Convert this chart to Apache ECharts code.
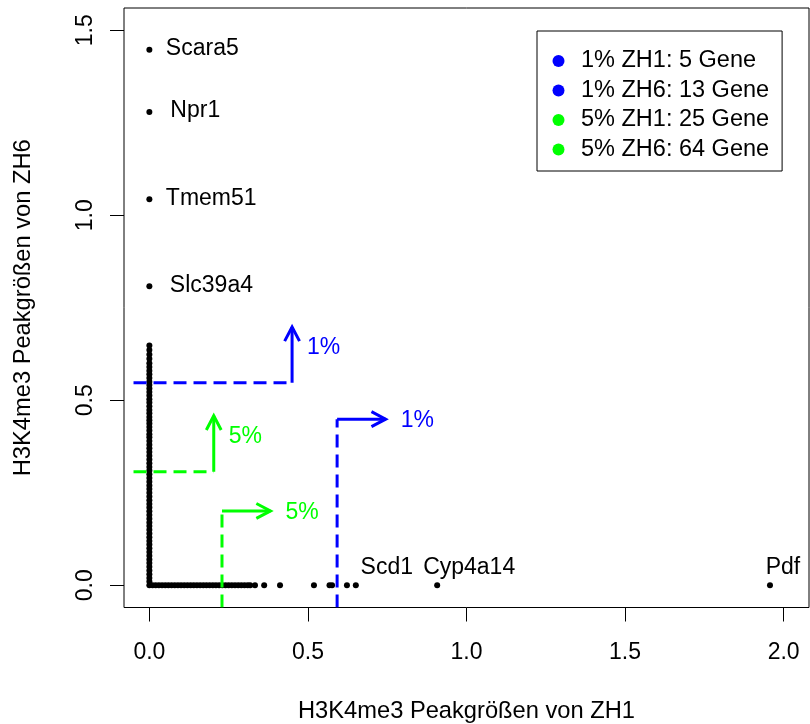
<!DOCTYPE html>
<html>
<head>
<meta charset="utf-8">
<script src="https://cdn.jsdelivr.net/npm/echarts@6/dist/echarts.min.js"></script>
<style>
  html, body { margin: 0; padding: 0; background: #fff; }
  #chart { width: 810px; height: 724px; }
</style>
</head>
<body>
<div id="chart"></div>
<script>
// Peak sizes at ZH1 = 0: the ZH6 values stacked in the left column
const columnZH6 = [
  0.00, 0.01, 0.02, 0.03, 0.04, 0.05, 0.06, 0.07, 0.08, 0.09,
  0.10, 0.11, 0.12, 0.13, 0.14, 0.15, 0.16, 0.17, 0.18, 0.19,
  0.20, 0.21, 0.22, 0.23, 0.24, 0.25, 0.26, 0.27, 0.28, 0.29,
  0.30, 0.31, 0.32, 0.33, 0.34, 0.35, 0.36, 0.37, 0.38, 0.39,
  0.40, 0.408, 0.418, 0.428, 0.437, 0.446, 0.455, 0.465, 0.474,
  0.484, 0.494, 0.503, 0.513, 0.522, 0.532, 0.541, 0.550, 0.560,
  0.570, 0.580, 0.590, 0.600, 0.612, 0.624, 0.636, 0.648
];
// Peak sizes at ZH6 = 0: the ZH1 values along the bottom row
const rowZH1 = [
  0.01, 0.02, 0.03, 0.04, 0.05, 0.06, 0.07, 0.08, 0.09, 0.10,
  0.11, 0.12, 0.13, 0.14, 0.15, 0.16, 0.17, 0.18, 0.19, 0.20,
  0.21, 0.22, 0.23, 0.24, 0.25, 0.26, 0.27, 0.28, 0.29, 0.30,
  0.31, 0.318, 0.333, 0.362, 0.412, 0.519, 0.568, 0.576, 0.623
];
// Named genes
const geneNames = ['Scara5', 'Npr1', 'Tmem51', 'Slc39a4', 'Scd1', 'Cyp4a14', 'Pdf'];
const geneZH1   = [0, 0, 0, 0, 0.651, 0.9075, 1.957];
const geneZH6   = [1.447, 1.279, 1.043, 0.808, 0, 0, 0];

// Cut-offs (1% and 5%)
const cutLabels   = ['1%', '5%'];
const cutZH6      = [0.547, 0.307];   // horizontal dashed level
const cutZH6End   = [0.45, 0.203];    // where the dashed line turns into the up-arrow
const cutZH6Arrow = [0.698, 0.458];   // tip of the up-arrow
const cutZH1      = [0.592, 0.229];   // vertical dashed position
const cutZH1Top   = [0.449, 0.201];   // where the dashed line turns into the right-arrow
const cutZH1Arrow = [0.745, 0.382];   // tip of the right-arrow

// Legend entries
const legendLabels = ['1% ZH1: 5 Gene', '1% ZH6: 13 Gene', '5% ZH1: 25 Gene', '5% ZH6: 64 Gene'];

// Axis ticks
const xTicks = [0, 0.5, 1, 1.5, 2];
const yTicks = [0, 0.5, 1, 1.5];

// ---- styling ----
const FONT = '"Liberation Sans", Arial, Helvetica, sans-serif';
const FS = 23;
const FS_TITLE = 23.7;
const FS_LEGEND = 23.5;
const cutColors = ['#0000FF', '#00FF00'];
const legendColors = ['#0000FF', '#0000FF', '#00FF00', '#00FF00'];
// label placement for named genes: [position, distance, dx, dy]
const geneLabelLayout = [
  ['right', 13.5, 0, -1],
  ['right', 18, 0, -1],
  ['right', 13.5, 0, -1],
  ['right', 17.5, 0, -1],
  ['top', 3, 31, 0],
  ['top', 3, 32, 0],
  ['top', 3, 13, 0]
];

const pointData = [];
columnZH6.forEach(y => pointData.push([0, y]));
rowZH1.forEach(x => pointData.push([x, 0]));

const geneData = geneNames.map((n, i) => {
  const L = geneLabelLayout[i];
  return {
    name: n,
    value: [geneZH1[i], geneZH6[i]],
    label: { position: L[0], distance: L[1], offset: [L[2], L[3]] }
  };
});

// Guides: dashed segment P0->P1, then solid arrow P1->P2
const guideData = [];
cutLabels.forEach((lab, i) => {
  guideData.push([-0.05, cutZH6[i], cutZH6End[i], cutZH6[i], cutZH6End[i], cutZH6Arrow[i], i, 0]);
  guideData.push([cutZH1[i], -0.06, cutZH1[i], cutZH1Top[i], cutZH1Arrow[i], cutZH1Top[i], i, 1]);
});

function renderGuide(params, api) {
  const p0 = api.coord([api.value(0), api.value(1)]);
  const p1 = api.coord([api.value(2), api.value(3)]);
  const p2 = api.coord([api.value(4), api.value(5)]);
  const ci = api.value(6);
  const kind = api.value(7);
  const color = cutColors[ci];
  const ang = Math.atan2(p2[1] - p1[1], p2[0] - p1[0]);
  const len = 16, spread = Math.PI / 6.5;
  const w1 = [p2[0] - len * Math.cos(ang - spread), p2[1] - len * Math.sin(ang - spread)];
  const w2 = [p2[0] - len * Math.cos(ang + spread), p2[1] - len * Math.sin(ang + spread)];
  const textPos = kind === 0 ? [p2[0] + 15, p2[1] + 21] : [p2[0] + 15, p2[1] + 1.5];
  return {
    type: 'group',
    children: [
      { type: 'line', shape: { x1: p0[0], y1: p0[1], x2: p1[0], y2: p1[1] },
        style: { stroke: color, lineWidth: 3, lineDash: [13, 7], lineCap: 'butt' } },
      { type: 'line', shape: { x1: p1[0], y1: p1[1], x2: p2[0], y2: p2[1] },
        style: { stroke: color, lineWidth: 3 } },
      { type: 'polyline', shape: { points: [w1, p2, w2] },
        style: { stroke: color, lineWidth: 3, fill: null } },
      { type: 'text', style: { text: cutLabels[ci], x: textPos[0], y: textPos[1], fill: color,
        fontSize: FS, fontFamily: FONT, align: 'left', verticalAlign: 'middle' } }
    ]
  };
}

const chart = echarts.init(document.getElementById('chart'), null, { renderer: 'canvas' });

const legendSeries = legendLabels.map((n, i) => ({
  type: 'scatter', name: n, data: [], itemStyle: { color: legendColors[i], opacity: 1 }
}));

chart.setOption({
  animation: false,
  backgroundColor: '#ffffff',
  textStyle: { fontFamily: FONT },
  grid: { left: 124, top: 8, right: 1, bottom: 116.5, show: true, outerBoundsMode: 'none',
          containLabel: false,
          borderColor: '#000', borderWidth: 1, backgroundColor: 'transparent' },
  xAxis: {
    type: 'value', min: -0.08, max: 2.08,
    name: 'H3K4me3 Peakgrößen von ZH1', nameLocation: 'middle', nameGap: 92,
    nameTextStyle: { fontSize: FS_TITLE, color: '#000', fontFamily: FONT },
    axisLine: { show: false, onZero: false },
    axisTick: { show: true, customValues: xTicks, length: 14, lineStyle: { color: '#000', width: 1 } },
    axisLabel: { customValues: xTicks, formatter: v => v.toFixed(1), fontSize: FS,
                 color: '#000', fontFamily: FONT, margin: 34 },
    splitLine: { show: false }
  },
  yAxis: {
    type: 'value', min: -0.06, max: 1.56,
    name: 'H3K4me3 Peakgrößen von ZH6', nameLocation: 'middle', nameGap: 89,
    nameTextStyle: { fontSize: FS_TITLE, color: '#000', fontFamily: FONT },
    axisLine: { show: false, onZero: false },
    axisTick: { show: true, customValues: yTicks, length: 14, lineStyle: { color: '#000', width: 1 } },
    axisLabel: { customValues: yTicks, formatter: v => v.toFixed(1), fontSize: FS, rotate: 90,
                 color: '#000', fontFamily: FONT, margin: 27 },
    splitLine: { show: false }
  },
  legend: {
    orient: 'vertical', left: 537, top: 31,
    padding: [18, 13, 9.5, 15.5],
    itemWidth: 12, itemHeight: 12, itemGap: 5.5, icon: 'circle',
    borderColor: '#000', borderWidth: 1, selectedMode: false,
    textStyle: { fontSize: FS_LEGEND, color: '#000', fontFamily: FONT, lineHeight: 23, padding: [0, 0, 0, 11.5] },
    data: legendLabels
  },
  series: [
    { type: 'scatter', name: 'peaks', data: pointData, symbolSize: 6,
      itemStyle: { color: '#000', opacity: 1 }, silent: true, z: 2 },
    { type: 'scatter', name: 'genes', data: geneData, symbolSize: 6,
      itemStyle: { color: '#000', opacity: 1 }, silent: true, z: 2,
      label: { show: true, formatter: p => p.name, fontSize: FS, color: '#000', fontFamily: FONT, opacity: 1 } },
    { type: 'custom', name: 'cutoffs', coordinateSystem: 'cartesian2d', data: guideData,
      renderItem: renderGuide, clip: true, silent: true, z: 3 },
    ...legendSeries
  ]
});
</script>
</body>
</html>
